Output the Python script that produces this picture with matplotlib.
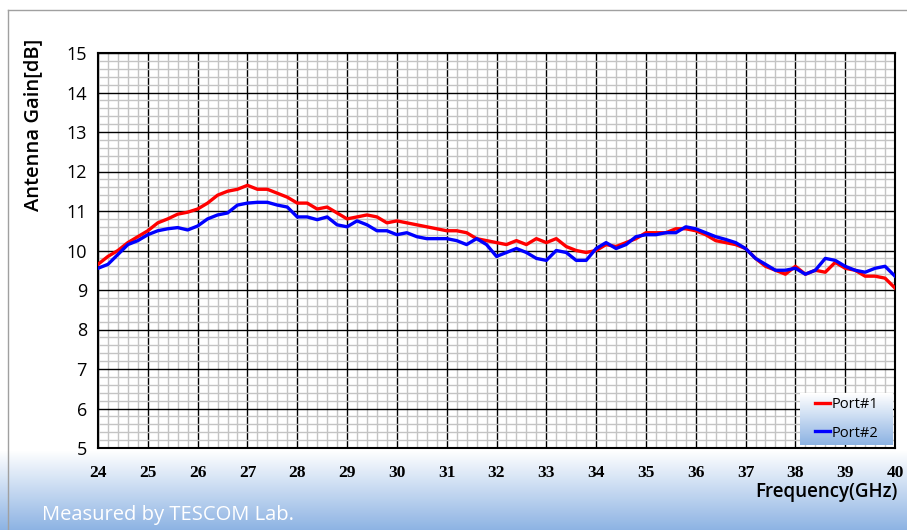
import numpy as np
import matplotlib.pyplot as plt
from matplotlib.ticker import MultipleLocator

# Frequency points (GHz) and measured gain (dB) for both ports
freq = [24.0, 24.2, 24.4, 24.6, 24.8, 25.0, 25.2, 25.4, 25.6, 25.8,
        26.0, 26.2, 26.4, 26.6, 26.8, 27.0, 27.2, 27.4, 27.6, 27.8,
        28.0, 28.2, 28.4, 28.6, 28.8, 29.0, 29.2, 29.4, 29.6, 29.8,
        30.0, 30.2, 30.4, 30.6, 30.8, 31.0, 31.2, 31.4, 31.6, 31.8,
        32.0, 32.2, 32.4, 32.6, 32.8, 33.0, 33.2, 33.4, 33.6, 33.8,
        34.0, 34.2, 34.4, 34.6, 34.8, 35.0, 35.2, 35.4, 35.6, 35.8,
        36.0, 36.2, 36.4, 36.6, 36.8, 37.0, 37.2, 37.4, 37.6, 37.8,
        38.0, 38.2, 38.4, 38.6, 38.8, 39.0, 39.2, 39.4, 39.6, 39.8, 40.0]

port1 = [9.65, 9.85, 10.0, 10.2, 10.35, 10.5, 10.7, 10.8, 10.92, 10.97,
         11.05, 11.2, 11.4, 11.5, 11.55, 11.65, 11.55, 11.55, 11.45, 11.35,
         11.2, 11.2, 11.05, 11.1, 10.95, 10.8, 10.85, 10.9, 10.85, 10.7,
         10.75, 10.7, 10.65, 10.6, 10.55, 10.5, 10.5, 10.45, 10.3, 10.25,
         10.2, 10.15, 10.25, 10.15, 10.3, 10.2, 10.3, 10.1, 10.0, 9.95,
         10.0, 10.15, 10.1, 10.2, 10.3, 10.45, 10.45, 10.45, 10.55, 10.55,
         10.5, 10.4, 10.25, 10.2, 10.15, 10.05, 9.8, 9.6, 9.5, 9.4,
         9.6, 9.4, 9.5, 9.45, 9.7, 9.55, 9.5, 9.35, 9.35, 9.3, 9.05]

port2 = [9.55, 9.65, 9.9, 10.15, 10.25, 10.4, 10.5, 10.55, 10.58, 10.52,
         10.62, 10.8, 10.9, 10.95, 11.15, 11.2, 11.22, 11.22, 11.15, 11.1,
         10.85, 10.85, 10.78, 10.85, 10.65, 10.6, 10.75, 10.65, 10.5, 10.5,
         10.4, 10.45, 10.35, 10.3, 10.3, 10.3, 10.25, 10.15, 10.3, 10.15,
         9.85, 9.95, 10.05, 9.95, 9.8, 9.75, 10.0, 9.95, 9.75, 9.75,
         10.05, 10.2, 10.05, 10.15, 10.35, 10.4, 10.4, 10.45, 10.45, 10.6,
         10.55, 10.45, 10.35, 10.28, 10.2, 10.05, 9.8, 9.65, 9.5, 9.5,
         9.55, 9.4, 9.5, 9.8, 9.75, 9.6, 9.5, 9.45, 9.55, 9.6, 9.35]

labels = ['Port#1', 'Port#2']

fig = plt.figure(figsize=(9.07, 5.30), dpi=100)

top = np.array([1.0, 1.0, 1.0])
bot = np.array([0.55, 0.70, 0.89])

# background: white on top, light blue gradient at the bottom
bg = fig.add_axes([0, 0, 1, 1], zorder=-10)
rows = np.arange(530)
t = np.clip((rows - 450) / 80, 0, 1)
grad = top[None, :] * (1 - t[:, None]) + bot[None, :] * t[:, None]
bg.imshow(grad[:, None, :], aspect='auto', extent=[0, 1, 0, 1])
bg.plot([8 / 907, 8 / 907], [0, 1 - 10 / 530], color='#a0a0a0', lw=1)
bg.plot([8 / 907, 1], [1 - 10 / 530, 1 - 10 / 530], color='#a0a0a0', lw=1)
bg.set_xlim(0, 1)
bg.set_ylim(0, 1)
bg.axis('off')

ax = fig.add_axes([98 / 907, 82 / 530, 797 / 907, 395 / 530])
ax.set_facecolor('white')
l1, = ax.plot(freq, port1, color='#ff0000', lw=2.4, zorder=3)
l2, = ax.plot(freq, port2, color='#0000ff', lw=2.4, zorder=3)

ax.set_xlim(24, 40)
ax.set_ylim(5, 15)
ax.xaxis.set_major_locator(MultipleLocator(1))
ax.yaxis.set_major_locator(MultipleLocator(1))
ax.xaxis.set_minor_locator(MultipleLocator(0.2))
ax.yaxis.set_minor_locator(MultipleLocator(0.2))
ax.grid(which='minor', color='#c4c4c4', lw=1.0)
ax.grid(which='major', color='black', lw=1.0)
ax.set_axisbelow(True)
ax.tick_params(which='both', length=0)
ax.tick_params(axis='x', pad=12)
ax.tick_params(axis='y', pad=8)
for s in ax.spines.values():
    s.set_color('black')
    s.set_linewidth(1.5)
for lab in ax.get_xticklabels():
    lab.set_fontfamily('Liberation Serif')
    lab.set_fontweight('bold')
    lab.set_fontsize(12.5)
for lab in ax.get_yticklabels():
    lab.set_fontfamily('Open Sans')
    lab.set_fontsize(13)
    lab.set_fontweight('medium')

fig.text(33 / 907, 1 - 125 / 530, 'Antenna Gain[dB]', rotation=90,
         ha='center', va='center', fontsize=14.5, family='Open Sans',
         fontweight='semibold')
fig.text(898 / 907, 1 - 492 / 530, 'Frequency(GHz)', ha='right', va='center',
         fontsize=13.5, family='Open Sans', fontweight='semibold')
fig.text(42 / 907, 1 - 515 / 530, 'Measured by TESCOM Lab.', ha='left',
         va='center', fontsize=14.5, color='white', family='Open Sans')

# legend with gradient box
lax = fig.add_axes([800 / 907, 85 / 530, 93 / 907, 52 / 530], zorder=5)
lg = np.linspace(0, 1, 50)
lgrad = top[None, :] * (1 - lg[:, None]) + bot[None, :] * lg[:, None]
lax.imshow(lgrad[:, None, :], aspect='auto', extent=[0, 1, 0, 1])
lax.set_xlim(0, 1)
lax.set_ylim(0, 1)
lax.axis('off')
lax.legend([l1, l2], labels, loc='center', frameon=False,
           handlelength=1.0, handletextpad=0.1, labelspacing=0.9,
           prop={'family': 'Open Sans', 'size': 10.5, 'weight': 'medium'})

fig.savefig('out.png', dpi=100)
